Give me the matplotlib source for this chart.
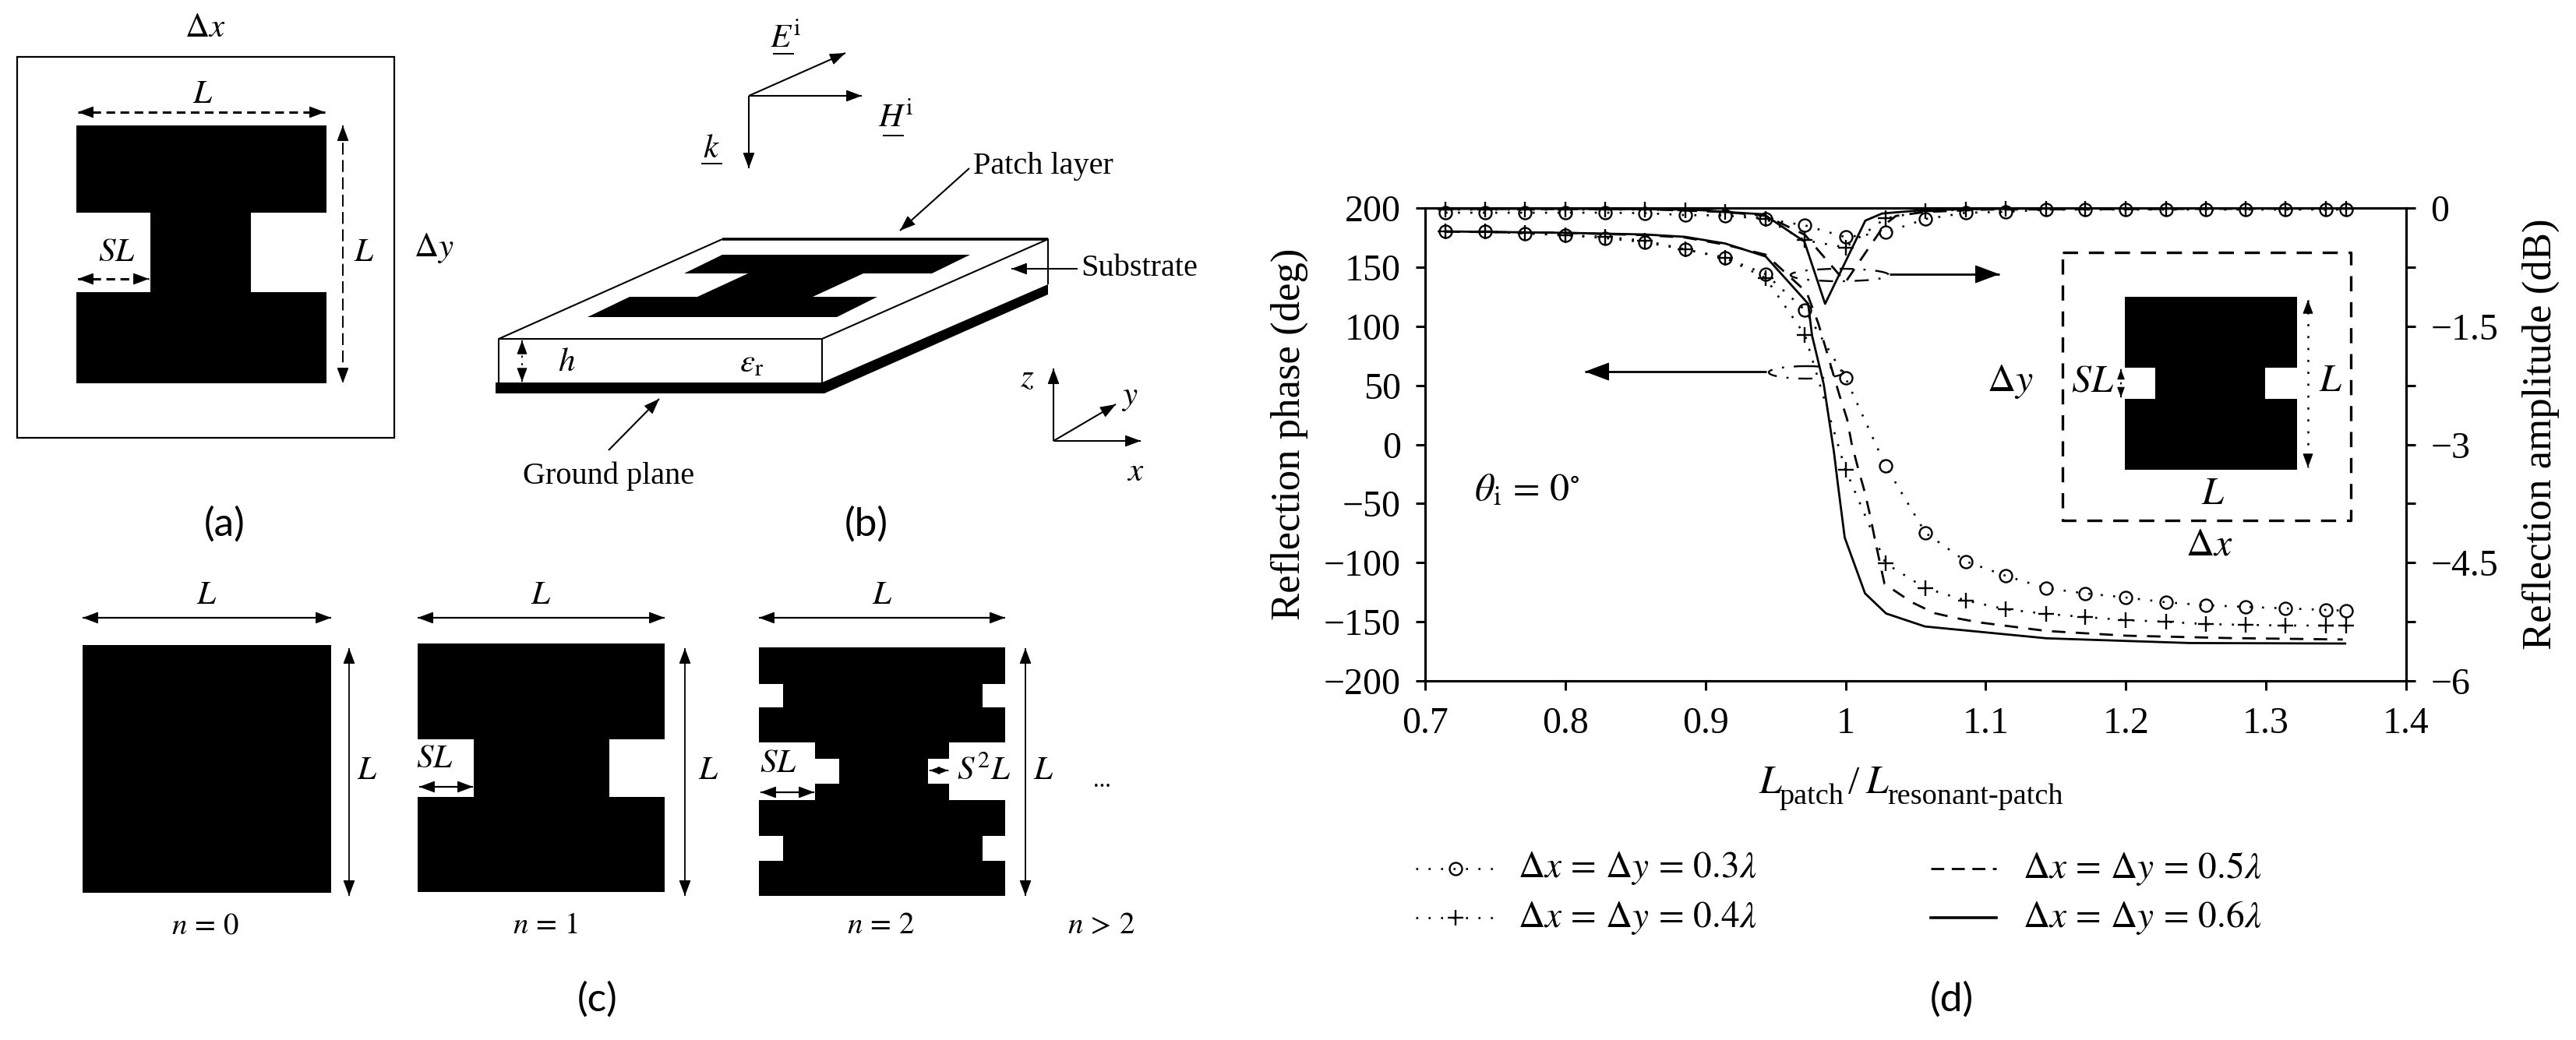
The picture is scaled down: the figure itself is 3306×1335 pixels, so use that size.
import matplotlib
matplotlib.use("Agg")
import matplotlib.pyplot as plt
from matplotlib.patches import Ellipse, Polygon, Rectangle

plt.rcParams["font.family"] = ["Liberation Serif", "DejaVu Serif"]
plt.rcParams["mathtext.fontset"] = "stix"
plt.rcParams["lines.scale_dashes"] = False

W, H = 3306, 1335

# panel (d) data
x_markers = [0.7145, 0.743, 0.771, 0.8, 0.8285, 0.857, 0.8855, 0.914, 0.943, 0.971, 1.0, 1.0285,
             1.057, 1.086, 1.114, 1.143, 1.171, 1.2, 1.2285, 1.257, 1.2855, 1.314, 1.343, 1.357]
phase_03 = [180, 180, 178.5, 177, 174.5, 171, 165, 158, 144, 113.7, 56.3, -18,
            -74.8, -99, -111, -121.6, -126, -129.5, -133.5, -136, -137.4, -138.7, -140, -140.7]
phase_04 = [180, 180, 179, 177, 175.6, 172.3, 165, 157.8, 140.7, 92.6, -21.4, -100.5,
            -121.6, -132, -139.4, -143.3, -146, -148.6, -150, -152, -152.6, -153.2, -153.2, -153.2]
x_phase_05 = [0.7145, 0.8, 0.857, 0.8855, 0.914, 0.943, 0.9722, 0.9805, 0.9855, 0.9956, 1.0011, 1.0044,
              1.0089, 1.0139, 1.0178, 1.0211, 1.0278, 1.0328, 1.0473, 1.0634, 1.0806, 1.0957,
              1.1435, 1.2008, 1.2742, 1.3548]
phase_05 = [180, 179, 177, 175, 169, 160.5, 128.8, 102.5, 82.7, 41.8, 21.4, 0.3,
            -20, -41.2, -61.6, -81.4, -118, -122, -133.5, -142.7, -147.3, -150.6,
            -157.8, -161.8, -163.8, -165]
x_phase_06 = [0.7145, 0.8, 0.857, 0.8855, 0.914, 0.943, 0.9733, 0.9761, 0.9844, 0.9872, 0.9917, 0.9944,
              0.9994, 1.0139, 1.0289, 1.0567, 1.1435, 1.2458, 1.3565]
phase_06 = [180.2, 179, 177.6, 175.6, 170, 159, 119, 92, 51, 29, -6.3, -32.6,
            -78.8, -126, -143, -154, -164, -168, -168.4]
amp_03 = [-0.06, -0.06, -0.06, -0.06, -0.06, -0.065, -0.09, -0.095, -0.14, -0.22, -0.37, -0.31,
          -0.14, -0.06, -0.05, -0.02, -0.02, -0.02, -0.02, -0.02, -0.02, -0.02, -0.02, -0.02]
amp_04 = [-0.02, -0.02, -0.02, -0.02, -0.02, -0.02, -0.03, -0.05, -0.14, -0.41, -0.5, -0.13,
          -0.04, -0.02, -0.01, -0.01, -0.01, -0.01, -0.01, -0.01, -0.01, -0.01, -0.01, -0.01]
x_amp_05 = [0.7145, 0.857, 0.914, 0.943, 0.971, 1.0, 1.0141, 1.028, 1.036, 1.057, 1.1, 1.357]
amp_05 = [-0.01, -0.015, -0.05, -0.1, -0.34, -0.94, -0.57, -0.21, -0.1, -0.05, -0.02, -0.005]
x_amp_06 = [0.7145, 0.8, 0.857, 0.8855, 0.9, 0.914, 0.9416, 0.9706, 0.9854, 1.0141, 1.026, 1.053, 1.086, 1.143, 1.357]
amp_06 = [-0.01, -0.01, -0.015, -0.02, -0.03, -0.05, -0.08, -0.425, -1.216, -0.16, -0.07, -0.03, -0.015, -0.005, -0.005]

x_ticks = [0.7, 0.8, 0.9, 1.0, 1.1, 1.2, 1.3, 1.4]
x_tick_labels = ["0.7", "0.8", "0.9", "1", "1.1", "1.2", "1.3", "1.4"]
phase_ticks = [200, 150, 100, 50, 0, -50, -100, -150, -200]
phase_tick_labels = ["200", "150", "100", "50", "0", "\u221250", "\u2212100", "\u2212150", "\u2212200"]
amp_ticks = [0, -0.75, -1.5, -2.25, -3, -3.75, -4.5, -5.25, -6]
amp_tick_labels = ["0", "", "\u22121.5", "", "\u22123", "", "\u22124.5", "", "\u22126"]
legend_labels = [r"$\Delta x\,=\,\Delta y\,=\,0.3\lambda$", r"$\Delta x\,=\,\Delta y\,=\,0.4\lambda$",
                 r"$\Delta x\,=\,\Delta y\,=\,0.5\lambda$", r"$\Delta x\,=\,\Delta y\,=\,0.6\lambda$"]

DOTS = (0, (1.9, 9.6))
DASH = (0, (12.5, 9.5))

fig = plt.figure(figsize=(W / 100, H / 100), dpi=100)

# panel (d)
ax = fig.add_axes([1829 / W, 1 - 874 / H, (3088 - 1829) / W, (874 - 267) / H])
ax.set_xlim(0.7, 1.4)
ax.set_ylim(-200, 200)
ax.set_xticks(x_ticks)
ax.set_xticklabels(x_tick_labels)
ax.set_yticks(phase_ticks)
ax.set_yticklabels(phase_tick_labels)
ax.tick_params(labelsize=34.5, width=2.2, length=8.5)
ax.tick_params(axis="x", pad=15)
ax.tick_params(axis="y", pad=14)
for s in ax.spines.values():
    s.set_linewidth(2.2)
ax.plot(x_markers, phase_03, color="black", lw=1.9, ls=DOTS, marker="o", ms=11.5, mew=1.7, mfc="none", clip_on=False)
ax.plot(x_markers, phase_04, color="black", lw=1.9, ls=DOTS, marker="+", ms=15, mew=1.7, clip_on=False)
ax.plot(x_phase_05, phase_05, color="black", lw=2.0, ls=DASH)
ax.plot(x_phase_06, phase_06, color="black", lw=2.0)

ax2 = ax.twinx()
ax2.set_ylim(-6, 0)
ax2.set_yticks(amp_ticks)
ax2.set_yticklabels(amp_tick_labels)
ax2.tick_params(labelsize=34.5, width=2.2, length=8.5, pad=14)
for s in ax2.spines.values():
    s.set_linewidth(2.2)
ax2.plot(x_markers, amp_03, color="black", lw=1.9, ls=DOTS, marker="o", ms=11.5, mew=1.7, mfc="none", clip_on=False)
ax2.plot(x_markers, amp_04, color="black", lw=1.9, ls=DOTS, marker="+", ms=15, mew=1.7, clip_on=False)
ax2.plot(x_amp_05, amp_05, color="black", lw=2.0, ls=DASH)
ax2.plot(x_amp_06, amp_06, color="black", lw=2.0)

# everything else is drawn in picture pixels on a clear layer
pic = fig.add_axes([0, 0, 1, 1], facecolor="none")
pic.set_xlim(0, W)
pic.set_ylim(H, 0)
pic.axis("off")


def txt(x, y, s, size=30, **kw):
    kw.setdefault("ha", "center")
    kw.setdefault("va", "center")
    pic.text(x, y, s, fontsize=size, **kw)


def line(xs, ys, lw=1.5, ls="-"):
    pic.plot(xs, ys, color="black", lw=lw, ls=ls, solid_capstyle="butt", dash_capstyle="butt")


def head(x0, y0, x1, y1, scale=16):
    # arrow head at x1,y1 pointing away from x0,y0
    pic.annotate("", xy=(x1, y1), xytext=(x0, y0), arrowprops=dict(
        arrowstyle="-|>,head_length=0.8,head_width=0.3", color="black", lw=0.8,
        mutation_scale=scale, shrinkA=0, shrinkB=0))


def arrow(x0, y0, x1, y1, lw=1.5, ls="-", both=True, scale=16):
    line([x0, x1], [y0, y1], lw=lw, ls=ls)
    dx, dy = (x1 - x0) * 0.01, (y1 - y0) * 0.01
    head(x1 - dx, y1 - dy, x1, y1, scale)
    if both:
        head(x0 + dx, y0 + dy, x0, y0, scale)


def block(points):
    pic.add_patch(Polygon(points, closed=True, fc="black", ec="none"))


def white(x0, y0, x1, y1):
    pic.add_patch(Rectangle((x0, y0), x1 - x0, y1 - y0, fc="white", ec="none"))


def black(x0, y0, x1, y1):
    pic.add_patch(Rectangle((x0, y0), x1 - x0, y1 - y0, fc="black", ec="none"))


# panel (a)
pic.add_patch(Rectangle((22, 73), 484, 489, fc="none", ec="black", lw=1.6))
black(98, 161, 419, 492)
white(98, 273, 193, 375)
white(322, 273, 419, 375)
txt(263, 37, r"$\Delta x$", 31)
txt(557, 318, r"$\Delta y$", 31)
txt(260, 122, r"$L$", 31)
txt(467, 325, r"$L$", 31)
txt(150, 325, r"$SL$", 31)
arrow(100, 144, 417, 144, lw=2.2, ls=(0, (8, 5)))
arrow(440, 161, 440, 492, lw=1.4, ls=(0, (11, 5)))
arrow(100, 358, 191, 358, lw=2.2, ls=(0, (8, 5)))

# panel (b)
arrow(961, 123, 1085, 68, both=False)
arrow(961, 123, 1106, 123, both=False)
arrow(961, 123, 961, 216, both=False)
txt(1008, 50, r"$E^{\mathrm{i}}$", 31)
txt(1150, 152, r"$H^{\mathrm{i}}$", 31)
txt(913, 192, r"$k$", 31)
line([992, 1019], [69, 69], 1.4)
line([1133, 1160], [174, 174], 1.4)
line([900, 927], [210, 210], 1.4)
txt(1339, 214, "Patch layer", 29)
arrow(1244, 216, 1155, 296, both=False)
txt(1462, 345, "Substrate", 29)
arrow(1383, 345, 1298, 345, both=False)
txt(781, 611, "Ground plane", 29)
arrow(781, 578, 846, 512, both=False)
# slab outline
block([(1055, 491), (1345, 365), (1345, 378), (1058, 505), (636, 505), (636, 491)])
line([927, 1345, 1055, 640, 927], [307, 307, 435, 435, 307], 1.5)
line([927, 1345], [307, 307], 2.6)
line([640, 640], [435, 491], 1.5)
line([1055, 1055], [435, 491], 1.5)
line([1345, 1345], [307, 365], 1.5)
block([(927, 327), (1245, 327), (1196, 351), (1108, 351), (1043, 381), (1126, 381), (1074, 407),
       (754, 407), (808, 381), (895, 381), (960, 351), (878, 351)])
arrow(670, 437, 670, 490, lw=1.3, ls=(0, (2, 5)), scale=14)
txt(727, 466, r"$h$", 31)
txt(965, 467, r"$\varepsilon_{\mathrm{r}}$", 31)
arrow(1352, 566, 1352, 473, both=False)
arrow(1352, 566, 1432, 519, both=False)
arrow(1352, 566, 1464, 566, both=False)
txt(1318, 486, r"$z$", 31)
txt(1450, 511, r"$y$", 31)
txt(1457, 607, r"$x$", 31)

# panel (c)
black(106, 828, 425, 1146)
black(536, 826, 853, 1145)
white(536, 949, 608, 1023)
white(782, 949, 853, 1023)
black(974, 831, 1290, 1150)
white(974, 953, 1046, 1027)
white(1218, 953, 1290, 1027)
white(1046, 974, 1077, 1006)
white(1191, 974, 1218, 1006)
white(974, 878, 1005, 908)
white(1261, 878, 1290, 908)
white(974, 1073, 1005, 1105)
white(1261, 1073, 1290, 1105)
for x0, x1, xv, xl in [(106, 425, 448, 471), (536, 853, 879, 909), (974, 1290, 1316, 1339)]:
    arrow(x0, 793, x1, 793, lw=1.6)
    arrow(xv, 832, xv, 1150, lw=1.3)
    txt((x0 + x1) / 2, 765, r"$L$", 31)
    txt(xl, 990, r"$L$", 31)
txt(558, 975, r"$SL$", 31)
arrow(538, 1010, 607, 1010, lw=1.6)
txt(999, 981, r"$SL$", 31)
arrow(976, 1017, 1045, 1017, lw=1.6)
txt(1263, 990, r"$S^2L$", 31)
arrow(1193, 989, 1217, 989, lw=1.3, scale=10)
txt(1414, 1003, "...", 22)
txt(264, 1189, r"$n\,=\,0$", 28)
txt(700, 1189, r"$n\,=\,1$", 28)
txt(1131, 1189, r"$n\,=\,2$", 28)
txt(1414, 1189, r"$n\,>\,2$", 28)

# panel letters
for x, y, s in [(288, 673, "(a)"), (1112, 673, "(b)"), (767, 1283, "(c)"), (2505, 1283, "(d)")]:
    txt(x, y, s, 37, family="Lato")

# panel (d) inset and notes
box_dash = (0, (14, 10))
line([2647, 3017, 3017, 2647, 2647], [324, 324, 668, 668, 324], 2.4, box_dash)
black(2727, 381, 2948, 603)
white(2727, 472, 2766, 512)
white(2907, 472, 2948, 512)
arrow(2962, 385, 2962, 600, lw=1.8, ls=(0, (2, 9)), scale=14)
arrow(2722, 474, 2722, 510, lw=1.5, ls=(0, (2, 4)), scale=10)
txt(2991, 490, r"$L$", 36)
txt(2685, 490, r"$SL$", 36)
txt(2580, 490, r"$\Delta y$", 36)
txt(2840, 635, r"$L$", 36)
txt(2835, 700, r"$\Delta x$", 36)
txt(2027, 630, r"$\theta_{\mathrm{i}}\,=\,0^{\circ}$", 36, ha="right")

ell_ls = (0, (13, 9, 2, 9))
pic.add_patch(Ellipse((2361, 353), 126, 16, fc="none", ec="black", lw=1.7, ls=ell_ls))
pic.add_patch(Ellipse((2318, 478), 96, 16, fc="none", ec="black", lw=1.7, ls=ell_ls))
arrow(2425, 352, 2566, 352, lw=2.0, both=False, scale=26)
arrow(2267, 477, 2034, 477, lw=2.0, both=False, scale=26)

txt(1655, 557, "Reflection phase (deg)", 38, rotation=90)
txt(3261, 557, "Reflection amplitude (dB)", 38, rotation=90)

# x axis title, pieces placed by hand so the subscripts keep their size
txt(2257, 1018, r"$L$", 37, ha="left", va="baseline")
txt(2283, 1032, "patch", 27.5, ha="left", va="baseline")
txt(2379, 1018, "/", 37, va="baseline")
txt(2394, 1018, r"$L$", 37, ha="left", va="baseline")
txt(2422, 1032, "resonant-patch", 27.5, ha="left", va="baseline")

# legend
rows = [1115, 1178, 1115, 1178]
text_x = [1948, 1948, 2596, 2596]
for label, y, tx in zip(legend_labels, rows, text_x):
    txt(tx, y, label, 34, ha="left")
pic.plot([1817, 1918], [rows[0], rows[0]], color="black", lw=1.9, ls=DOTS)
pic.plot([1868], [rows[0]], color="black", marker="o", ms=11.5, mew=1.7, mfc="none")
pic.plot([1817, 1918], [rows[1], rows[1]], color="black", lw=1.9, ls=DOTS)
pic.plot([1868], [rows[1]], color="black", marker="+", ms=15, mew=1.7)
pic.plot([2478, 2562], [rows[2], rows[2]], color="black", lw=2.0, ls=(0, (12, 7)))
pic.plot([2478, 2562], [rows[3], rows[3]], color="black", lw=2.6)
pic.set_xlim(0, W)
pic.set_ylim(H, 0)

fig.savefig("out.png", dpi=100, facecolor="white")
